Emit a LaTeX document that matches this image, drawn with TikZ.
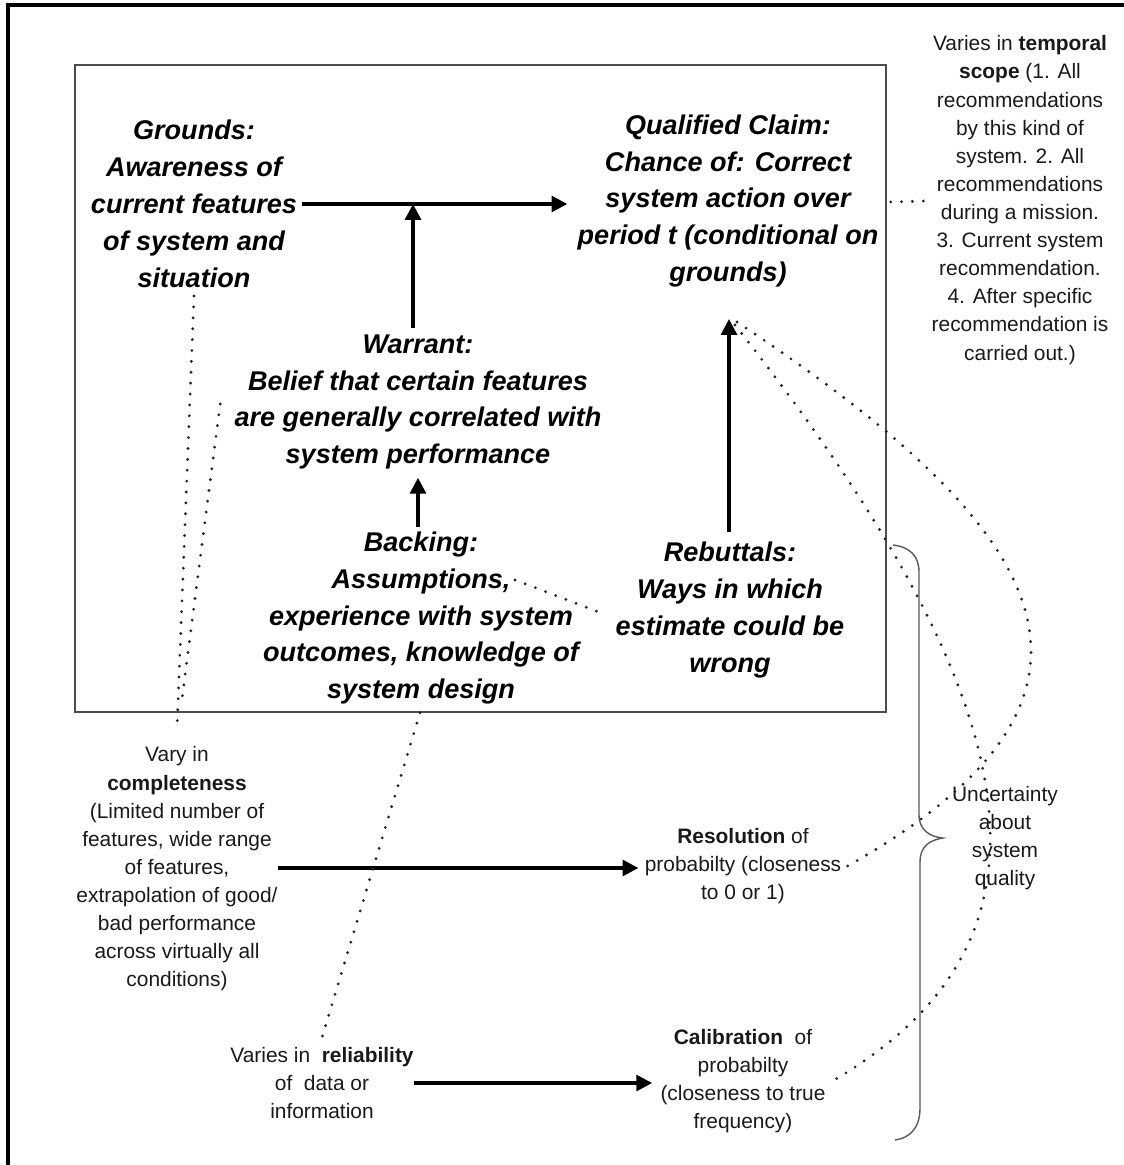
\documentclass[tikz,border=0pt]{standalone}
\usepackage{fontspec}
\setmainfont{Liberation Sans}
\usetikzlibrary{arrows.meta,calc}
\begin{document}
\begin{tikzpicture}[x=0.02cm,y=-0.02cm]
\tikzset{
  big/.style={font=\bfseries\itshape\fontsize{15.4}{21}\selectfont, align=center, inner sep=0pt},
  small/.style={font=\fontsize{11.9}{16}\selectfont, align=center, inner sep=0pt, text=black!90},
  arr/.style={line width=1.9pt, -{Triangle[length=9pt,width=9pt]}},
  dots/.style={line width=1.8pt, line cap=round, dash pattern=on 0pt off 6.2pt, draw=black!85},
  frameline/.style={line width=0.9pt, draw=black!70},
}
\useasboundingbox (0,0) rectangle (1124,1165);
% outer frame (top and left edges)
\draw[line width=2.3pt] (8,1165) -- (8,5) -- (1124,5);
% inner argument box
\draw[frameline] (75,65) rectangle (886,712);

% argument components
\node[big] (grounds) at (194,204) {Grounds:\\Awareness of\\current features\\of system and\\situation};
\node[big] (claim) at (728,201) {Qualified Claim:\\Chance of: Correct\\system action over\\period t (conditional on\\grounds)};
\node[big] (warrant) at (418,402) {Warrant:\\Belief that certain features\\are generally correlated with\\system performance};
\node[big] (backing) at (421,618) {Backing:\\Assumptions,\\experience with system\\outcomes, knowledge of\\system design};
\node[big] (rebuttals) at (730,610) {Rebuttals:\\Ways in which\\estimate could be\\wrong};

% annotations
\node[small] (temporal) at (1020,200) {Varies in \textbf{temporal}\\\textbf{scope} (1. All\\recommendations\\by this kind of\\system. 2. All\\recommendations\\during a mission.\\3. Current system\\recommendation.\\4. After specific\\recommendation is\\carried out.)};
\node[small] (complete) at (177,869) {Vary in\\\textbf{completeness}\\(Limited number of\\features, wide range\\of features,\\extrapolation of good/\\bad performance\\across virtually all\\conditions)};
\node[small] (resolution) at (743,866) {\textbf{Resolution} of\\probabilty (closeness\\to 0 or 1)};
\node[small] (reliability) at (322,1083) {Varies in \ \textbf{reliability}\\of \ data or\\information};
\node[small] (calibration) at (743,1081) {\textbf{Calibration} \ of\\probabilty\\(closeness to true\\frequency)};
\node[small] (uncert) at (1005,838) {Uncertainty\\about\\system\\quality};

% solid arrows
\coordinate (ctip) at (729,319);
\draw[arr] ($(grounds.east)+(5,0)$) -- ($(grounds.east -| claim.west)+(-10,0)$);
\draw[arr] ($(warrant.north)+(-5,-6)$) -- ($(warrant.north |- grounds.east)+(-5,0)$);
\draw[arr] ($(backing.north)+(-3,-4)$) -- ($(backing.north |- warrant.south)+(-3,8)$);
\draw[arr] ($(rebuttals.north)+(-1,-10)$) -- (ctip);
\draw[arr] ($(complete.east)+(0,-1)$) -- ($(complete.east -| resolution.west)+(-6,-1)$);
\draw[arr] ($(reliability.east)+(0,0)$) -- ($(reliability.east -| calibration.west)+(-8,0)$);

% dotted links
\draw[dots] ($(claim.east)+(12,1)$) -- ($(temporal.west)+(-6,1)$);
\draw[dots] ($(grounds.south)+(0,8)$) -- ($(complete.north)+(0,-18)$);
\draw[dots] ($(warrant.west)+(-14,2)$) -- ($(complete.north)+(4,-40)$);
\draw[dots] ($(backing.center)+(94,-38)$) -- ($(rebuttals.west)+(-14,3)$);
\draw[dots] ($(backing.south)+(-1,8)$) -- ($(reliability.north)+(-1,-6)$);
\draw[dots] ($(ctip)+(8,3)$) .. controls (1040,523) and (1160,690) .. ($(resolution.east)+(6,0)$);
\draw[dots] ($(ctip)+(6,6)$) .. controls (1049,723) and (1062,945) .. ($(calibration.east)+(10,-2)$);

% brace grouping the probability qualities
\draw[line width=0.8pt, draw=black!65]
  (893,545) .. controls (910,547) and (919,556) .. (919,572)
  -- (919,815) .. controls (919,830) and (930,837) .. (943,838)
  .. controls (930,840) and (920,846) .. (920,862)
  -- (920,1108) .. controls (920,1128) and (910,1138) .. (895,1140);
\end{tikzpicture}
\end{document}
